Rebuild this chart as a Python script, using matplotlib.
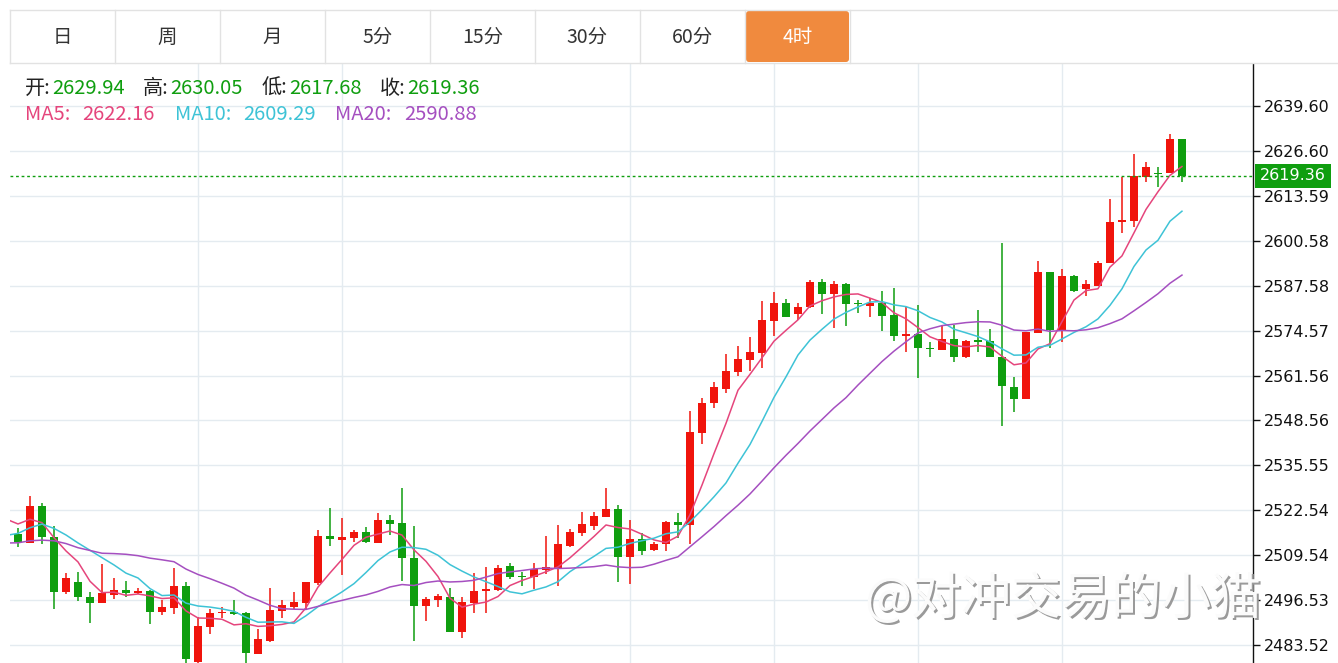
import numpy as np
import pandas as pd
import matplotlib

matplotlib.use("Agg")
import matplotlib.pyplot as plt
from matplotlib.patches import FancyBboxPatch

plt.rcParams["font.family"] = ["Noto Sans CJK SC", "DejaVu Sans"]

# ---------------------------------------------------------------------
# data (4h candles)
# ---------------------------------------------------------------------
OPENS = [
    2515.57, 2513.15, 2523.77, 2514.89, 2498.77, 2501.86, 2497.52, 2495.78, 2497.90, 2499.45,
    2498.68, 2499.16, 2493.08, 2494.33, 2500.51, 2478.70, 2488.83, 2492.69, 2492.98, 2492.88,
    2481.01, 2484.68, 2493.37, 2494.52, 2495.59, 2501.38, 2515.09, 2514.03, 2514.41, 2516.34,
    2513.16, 2519.72, 2518.95, 2508.81, 2494.92, 2496.56, 2497.33, 2487.19, 2495.78, 2499.26,
    2499.45, 2506.31, 2503.51, 2503.31, 2505.24, 2505.92, 2512.19, 2515.86, 2518.08, 2520.69,
    2522.91, 2508.91, 2514.22, 2511.03, 2512.68, 2519.05, 2518.27, 2544.81, 2553.51, 2557.66,
    2562.67, 2566.05, 2567.98, 2577.25, 2582.46, 2579.28, 2581.30, 2588.74, 2585.07, 2587.96,
    2582.46, 2581.69, 2582.46, 2579.08, 2573.00, 2573.49, 2569.62, 2568.95, 2572.04, 2567.02,
    2571.85, 2571.56, 2567.02, 2558.33, 2554.67, 2573.78, 2591.63, 2574.74, 2590.38, 2586.52,
    2587.58, 2594.05, 2605.92, 2606.30, 2619.14, 2620.30, 2620.11, 2629.94,
]
HIGHS = [
    2517.50, 2526.67, 2524.54, 2517.98, 2504.47, 2504.66, 2498.96, 2506.98, 2502.83, 2502.05,
    2499.93, 2499.45, 2496.55, 2505.91, 2501.86, 2491.53, 2493.95, 2494.62, 2496.55, 2493.08,
    2488.15, 2499.93, 2496.55, 2498.77, 2501.86, 2516.82, 2523.10, 2520.20, 2516.83, 2517.60,
    2521.65, 2521.17, 2528.89, 2518.08, 2497.33, 2498.29, 2499.93, 2497.33, 2504.47, 2506.21,
    2506.79, 2507.17, 2504.76, 2507.17, 2515.09, 2518.27, 2517.02, 2522.13, 2522.13, 2528.89,
    2524.07, 2519.72, 2515.86, 2513.45, 2519.43, 2521.85, 2551.38, 2554.95, 2559.78, 2567.79,
    2570.11, 2572.62, 2583.14, 2585.84, 2583.62, 2582.66, 2589.22, 2589.51, 2589.03, 2588.25,
    2583.43, 2583.91, 2586.13, 2586.81, 2581.50, 2581.98, 2571.36, 2576.19, 2576.19, 2571.85,
    2580.53, 2574.93, 2599.84, 2561.23, 2574.26, 2594.72, 2591.63, 2592.31, 2590.67, 2589.22,
    2594.82, 2612.58, 2619.14, 2625.70, 2623.29, 2621.84, 2631.40, 2630.05,
]
LOWS = [
    2512.00, 2512.96, 2512.77, 2494.04, 2498.19, 2496.36, 2489.80, 2495.59, 2496.84, 2497.52,
    2498.39, 2489.51, 2492.21, 2492.59, 2478.41, 2478.00, 2486.71, 2491.44, 2492.11, 2478.00,
    2480.82, 2484.49, 2491.44, 2493.95, 2493.66, 2500.90, 2512.19, 2503.70, 2513.45, 2513.16,
    2512.97, 2515.38, 2502.15, 2484.78, 2490.57, 2494.43, 2487.19, 2485.46, 2492.89, 2492.89,
    2499.26, 2502.54, 2500.61, 2499.74, 2504.08, 2500.61, 2511.81, 2515.09, 2516.83, 2520.49,
    2501.87, 2501.09, 2509.59, 2510.74, 2510.84, 2514.41, 2512.77, 2541.73, 2552.06, 2556.59,
    2561.42, 2562.96, 2563.64, 2573.00, 2578.60, 2577.64, 2581.01, 2579.37, 2575.22, 2575.99,
    2579.57, 2578.41, 2574.55, 2571.65, 2568.27, 2560.74, 2567.02, 2568.95, 2565.57, 2566.54,
    2568.47, 2566.83, 2546.94, 2550.90, 2554.67, 2573.78, 2569.62, 2571.36, 2585.84, 2584.68,
    2587.58, 2594.05, 2602.73, 2604.66, 2617.69, 2616.05, 2620.11, 2617.68,
]
CLOSES = [
    2513.25, 2523.77, 2514.89, 2498.87, 2503.02, 2497.32, 2495.78, 2498.48, 2499.45, 2498.48,
    2499.25, 2493.08, 2494.62, 2500.51, 2479.47, 2489.02, 2492.69, 2493.17, 2492.40, 2481.11,
    2485.16, 2493.66, 2495.10, 2495.97, 2501.67, 2515.08, 2514.12, 2514.70, 2516.34, 2513.35,
    2519.72, 2518.56, 2508.81, 2494.92, 2496.75, 2497.71, 2487.19, 2495.88, 2499.26, 2499.74,
    2505.73, 2503.12, 2503.12, 2505.44, 2506.21, 2512.77, 2516.34, 2518.47, 2520.98, 2522.81,
    2509.10, 2514.22, 2510.84, 2512.77, 2519.05, 2518.27, 2545.30, 2553.70, 2558.33, 2562.87,
    2566.25, 2568.37, 2577.54, 2582.46, 2578.60, 2581.40, 2588.54, 2585.07, 2587.96, 2582.17,
    2582.17, 2582.46, 2578.79, 2573.00, 2573.49, 2569.43, 2569.14, 2572.04, 2567.02, 2571.65,
    2571.36, 2567.02, 2558.62, 2554.67, 2574.26, 2591.63, 2574.74, 2590.38, 2586.03, 2587.96,
    2594.24, 2606.11, 2606.59, 2619.43, 2621.84, 2619.82, 2629.95, 2619.36,
]
# closes before the visible window, only needed to seed the moving averages
PRIOR_CLOSES = [
    2512.0, 2512.2, 2510.9, 2502.9, 2519.0, 2521.3, 2511.8, 2514.5, 2501.5, 2502.5,
    2507.3, 2507.4, 2504.3, 2511.5, 2522.0, 2520.4, 2517.0, 2519.8, 2520.6, 2522.2,
]

# values printed in the header
LAST_OPEN, LAST_HIGH, LAST_LOW, LAST_CLOSE = 2629.94, 2630.05, 2617.68, 2619.36
MA_LAST = [2622.16, 2609.29, 2590.88]

Y_TICKS = [2483.52, 2496.53, 2509.54, 2522.54, 2535.55, 2548.56, 2561.56,
           2574.57, 2587.58, 2600.58, 2613.59, 2626.60, 2639.60]
Y_MIN, Y_MAX = 2478.31, 2651.76
V_GRID = [15, 27, 51, 63, 75, 87]  # candle indices with a vertical grid line

TABS = ["日", "周", "月", "5分", "15分", "30分", "60分", "4时"]
ACTIVE_TAB = "4时"
MA_SPECS = [(5, "MA5", "#e5457c"), (10, "MA10", "#3ec3d6"), (20, "MA20", "#a54fc0")]
WATERMARK = "@对冲交易的小猫"

# ---------------------------------------------------------------------
# styling
# ---------------------------------------------------------------------
W, H = 1338, 663
RED = "#f0140c"
GREEN = "#0f9e0f"
GRID = "#e4ebf0"
BORDER = "#e2e2e2"
ORANGE = "#f08a3e"

fig = plt.figure(figsize=(W / 100, H / 100), dpi=100)
fig.patch.set_facecolor("white")

ax = fig.add_axes([10 / W, 0, 1243 / W, 599 / H])
n = len(CLOSES)
idx = np.arange(n)
ax.set_xlim(-0.667, 102.92)
ax.set_ylim(Y_MIN, Y_MAX)

for v in Y_TICKS:
    ax.axhline(v, color=GRID, lw=1, zorder=0)
for g in V_GRID:
    ax.axvline(g, color=GRID, lw=1, zorder=0)

opens = np.array(OPENS)
closes = np.array(CLOSES)
highs = np.array(HIGHS)
lows = np.array(LOWS)
up = closes >= opens
colors = np.where(up, RED, GREEN)

ax.vlines(idx, lows, highs, colors=colors, lw=1.1, zorder=2)
bottoms = np.minimum(opens, closes)
heights = np.maximum(np.abs(closes - opens), 0.35)
ax.bar(idx, heights, bottom=bottoms, width=0.64, color=colors, lw=0, zorder=3)

# moving averages
all_close = pd.Series(PRIOR_CLOSES + CLOSES)
pos = np.arange(-len(PRIOR_CLOSES), n)
for period, name, col in MA_SPECS:
    ma = all_close.rolling(period).mean().to_numpy()
    keep = pos >= -1
    ax.plot(pos[keep], ma[keep], color=col, lw=1.1, zorder=4)

# last price line + label
ax.axhline(LAST_CLOSE, color=GREEN, lw=1, ls=(0, (2, 2)), zorder=4)
ax.annotate(f"{LAST_CLOSE:.2f}", xy=(1.0, LAST_CLOSE), xycoords=("axes fraction", "data"),
            xytext=(5, 0), textcoords="offset points", va="center", ha="left",
            color="white", fontsize=11.5, family="DejaVu Sans",
            bbox=dict(boxstyle="square,pad=0.3", fc=GREEN, ec="none"),
            annotation_clip=False, zorder=6)

for side in ["left", "top", "bottom"]:
    ax.spines[side].set_visible(False)
ax.spines["right"].set_color("#111")
ax.spines["right"].set_linewidth(1)
ax.set_xticks([])
ax.yaxis.tick_right()
ax.set_yticks(Y_TICKS)
ax.set_yticklabels([f"{v:.2f}" for v in Y_TICKS], family="DejaVu Sans")
ax.tick_params(axis="y", length=5, width=1, pad=3, labelsize=11.5,
               colors="#111")

# ---------------------------------------------------------------------
# overlay: tabs, info text, watermark (pixel coordinates)
# ---------------------------------------------------------------------
ov = fig.add_axes([0, 0, 1, 1], zorder=5)
ov.set_xlim(0, W)
ov.set_ylim(H, 0)
ov.axis("off")

ov.plot([10, W], [10, 10], color=BORDER, lw=1)
ov.plot([10, W], [63, 63], color=BORDER, lw=1)
ov.plot([10, 10], [10, 63], color=BORDER, lw=1)
tab_w = 105
for i, label in enumerate(TABS):
    x0 = 10 + i * tab_w
    ov.plot([x0 + tab_w, x0 + tab_w], [10, 63], color=BORDER, lw=1)
    if label == ACTIVE_TAB:
        ov.add_patch(FancyBboxPatch((x0 + 1, 11), tab_w - 2, 51,
                                    boxstyle="round,pad=0,rounding_size=3",
                                    fc=ORANGE, ec="none"))
        tc = "white"
    else:
        tc = "#333333"
    ov.text(x0 + tab_w / 2, 37, label, ha="center", va="center",
            fontsize=14, color=tc)

# OHLC line
info = [("开:", LAST_OPEN, 25), ("高:", LAST_HIGH, 143),
        ("低:", LAST_LOW, 262), ("收:", LAST_CLOSE, 380)]
for lab, val, x in info:
    ov.text(x, 88, lab, ha="left", va="center", fontsize=14.5, color="#222")
    ov.text(x + 27, 88, f"{val:.2f}", ha="left", va="center", fontsize=14.5,
            color=GREEN)

# MA line
ma_x = [(25, 82), (175, 243), (335, 404)]
for (period, name, col), val, (xl, xv) in zip(MA_SPECS, MA_LAST, ma_x):
    ov.text(xl, 115, f"{name}:", ha="left", va="center", fontsize=14.5, color=col)
    ov.text(xv, 115, f"{val:.2f}", ha="left", va="center", fontsize=14.5, color=col)

# watermark (embossed look)
ov.text(1065, 602, WATERMARK, ha="center", va="center", fontsize=36,
        color="#9a9a9a")
ov.text(1063, 600, WATERMARK, ha="center", va="center", fontsize=36,
        color="#fbfbfb")

fig.savefig("out.png", dpi=100)
